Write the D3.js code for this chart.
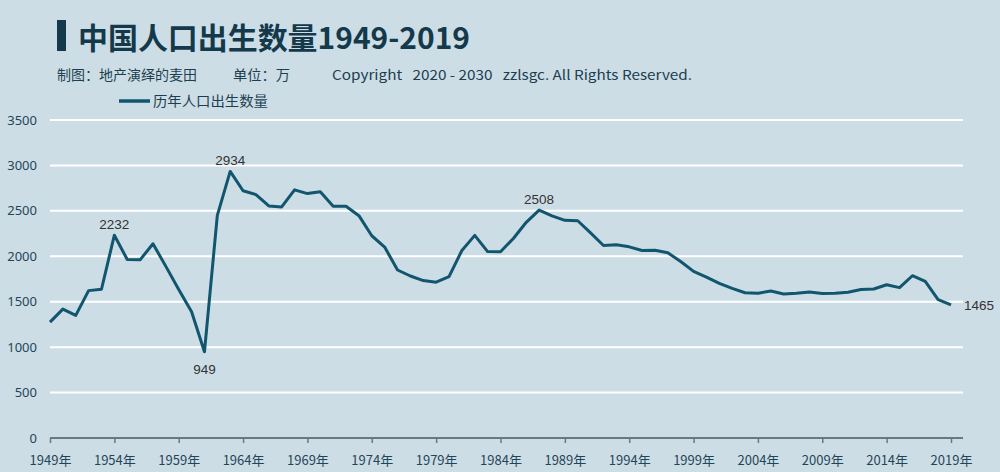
<!DOCTYPE html>
<html><head><meta charset="utf-8">
<script src="https://cdn.jsdelivr.net/npm/d3@7"></script>
<style>
html,body{margin:0;padding:0;background:#cddde6;}
svg{display:block;}
</style></head>
<body>
<svg id="chart" width="1000" height="472"></svg>
<script>
const years = d3.range(1949, 2020);
const births = [1275,1419,1349,1622,1637,2232,1965,1961,2138,1889,1635,1389,949,2451,2934,2721,2679,2554,2543,2731,2690,2710,2551,2550,2447,2226,2102,1849,1783,1733,1715,1776,2064,2230,2052,2050,2196,2374,2508,2445,2396,2391,2258,2119,2126,2104,2063,2067,2038,1942,1834,1771,1702,1647,1599,1593,1617,1584,1594,1608,1591,1592,1604,1635,1640,1687,1655,1786,1723,1523,1465];
const yTicks = [0,500,1000,1500,2000,2500,3000,3500];
const xTickYears = d3.range(1949, 2020, 5);
const labeled = [
  {year:1954, pos:"above"},
  {year:1961, pos:"below"},
  {year:1963, pos:"above"},
  {year:1987, pos:"above"},
  {year:2019, pos:"right"}
];
const title = "中国人口出生数量1949-2019";
const seriesName = "历年人口出生数量";

const svg = d3.select("#chart");
const cjk = "'Noto Sans CJK SC','Noto Sans',sans-serif";
const lat = "'Noto Sans','Noto Sans CJK SC',sans-serif";

svg.append("rect").attr("width",1000).attr("height",472).attr("fill","#cddde6");

// title
svg.append("rect").attr("x",57).attr("y",20).attr("width",9).attr("height",31).attr("fill","#14394a");
svg.append("text").attr("x",78).attr("y",49).attr("font-family",cjk).attr("font-weight",700)
  .attr("font-size",30).attr("fill","#14394a").attr("textLength",392).attr("lengthAdjust","spacingAndGlyphs").text(title);

// subtitle
const sub = svg.append("g").attr("font-family",cjk).attr("font-size",13.5).attr("fill","#1c3f50");
sub.append("text").attr("x",57).attr("y",80).attr("textLength",140).attr("lengthAdjust","spacingAndGlyphs").text("制图：地产演绎的麦田");
sub.append("text").attr("x",233).attr("y",80).attr("textLength",57).attr("lengthAdjust","spacingAndGlyphs").text("单位：万");
sub.append("text").attr("x",332).attr("y",80).attr("textLength",360).attr("lengthAdjust","spacingAndGlyphs")
  .attr("xml:space","preserve").style("white-space","pre").text("Copyright   2020 - 2030   zzlsgc. All Rights Reserved.");

// legend
svg.append("line").attr("x1",119).attr("x2",150).attr("y1",101).attr("y2",101).attr("stroke","#11566e").attr("stroke-width",3.5);
svg.append("text").attr("x",153).attr("y",106).attr("font-family",cjk).attr("font-size",13.5).attr("fill","#1c3f50")
  .attr("textLength",115).attr("lengthAdjust","spacingAndGlyphs").text(seriesName);

const x = d3.scaleLinear().domain([1949,2019]).range([50,951]);
const y = d3.scaleLinear().domain([0,3500]).range([438,120]);

// grid
svg.append("g").selectAll("line").data(yTicks.filter(d=>d>0)).join("line")
  .attr("x1",50).attr("x2",963).attr("y1",d=>y(d)).attr("y2",d=>y(d))
  .attr("stroke","#ffffff").attr("stroke-width",2);

// y labels
svg.append("g").selectAll("text").data(yTicks).join("text")
  .attr("x",37).attr("y",d=>y(d)).attr("dy","0.35em").attr("text-anchor","end")
  .attr("font-family",lat).attr("font-size",13).attr("fill","#1f4658").text(d=>d);

// x axis
const xAxis = d3.axisBottom(x).tickValues(xTickYears).tickSize(5).tickFormat(d=>d+"年");
const gx = svg.append("g").attr("transform","translate(0,438)").call(xAxis);
gx.select(".domain").remove();
gx.append("line").attr("x1",50).attr("x2",963).attr("y1",0).attr("y2",0).attr("stroke","#6b7880").attr("stroke-width",2);
gx.selectAll(".tick line").attr("stroke","#6b7880").attr("stroke-width",1.5);
gx.selectAll(".tick text").attr("y",22).attr("dy","0.35em").attr("font-family",cjk).attr("font-size",13).attr("fill","#1f4658");

// line
const line = d3.line().x((d,i)=>x(years[i])).y(d=>y(d));
svg.append("path").datum(births).attr("d",line).attr("fill","none")
  .attr("stroke","#11566e").attr("stroke-width",3).attr("stroke-linejoin","round");

// data labels
const lg = svg.append("g").attr("font-family","'Liberation Sans',Arial,sans-serif").attr("font-size",13.5).attr("fill","#333");
labeled.forEach(l=>{
  const v = births[years.indexOf(l.year)];
  const px = x(l.year), py = y(v);
  const t = lg.append("text").text(v);
  if(l.pos==="above"){ t.attr("x",px).attr("y",py-6).attr("text-anchor","middle"); }
  else if(l.pos==="below"){ t.attr("x",px).attr("y",py+22).attr("text-anchor","middle"); }
  else { t.attr("x",px+13).attr("y",py).attr("dy","0.35em"); }
});
</script>
</body></html>
